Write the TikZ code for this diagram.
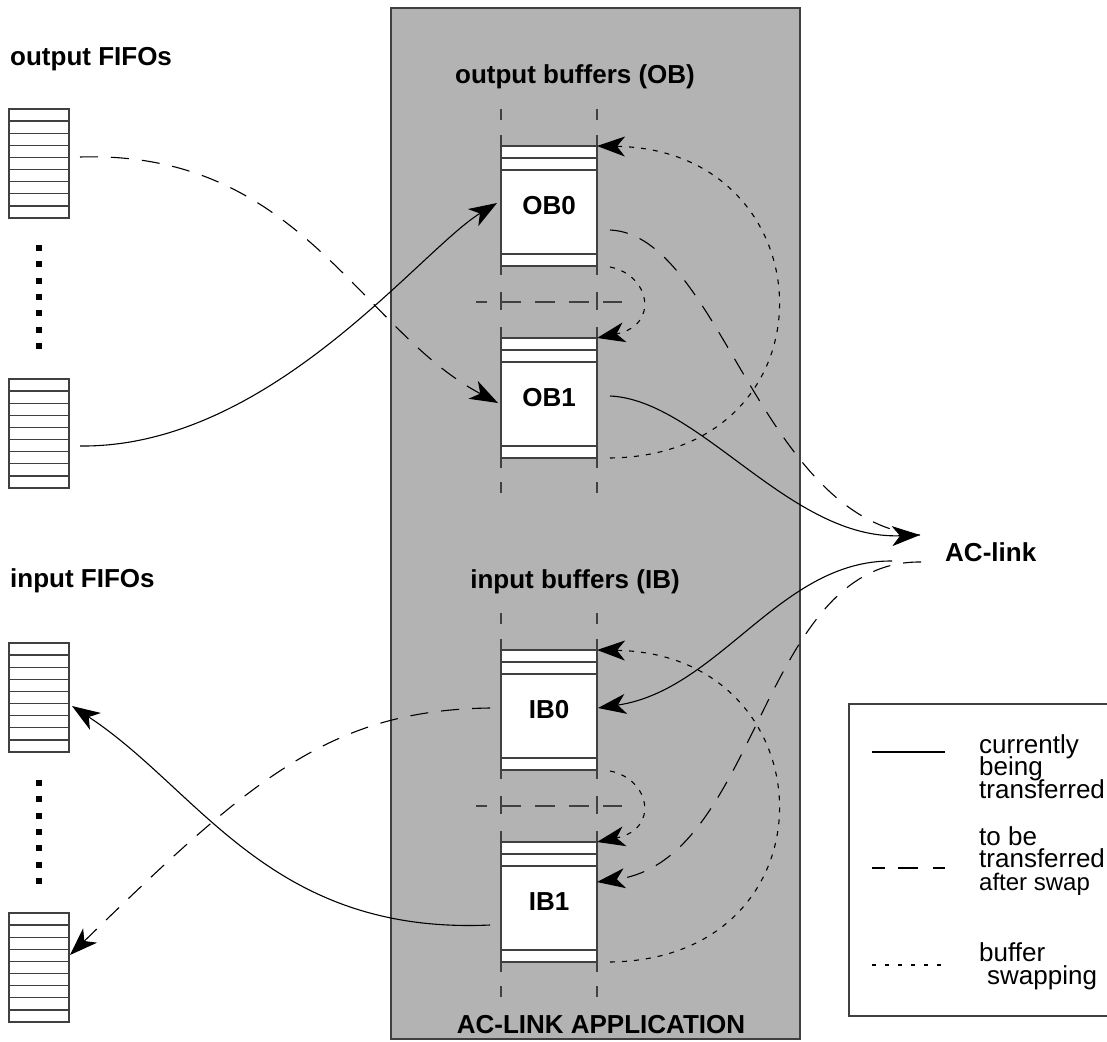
\documentclass[tikz,border=0pt]{standalone}
\usepackage{fontspec}
\setmainfont{Liberation Sans}
\usetikzlibrary{arrows.meta,calc}
\definecolor{appgray}{RGB}{179,179,179}
\definecolor{linegray}{RGB}{64,64,64}
\newcommand{\legfont}{\fontsize{26}{22.5}\selectfont\lineskiplimit=-100pt\relax}
\newcommand{\legsmall}{\fontsize{24}{22.5}\selectfont}
\begin{document}
\begin{tikzpicture}[x=1pt,y=-1pt,
  lbl/.style={font=\fontsize{26}{28}\selectfont\bfseries, inner sep=0pt},
  legtxt/.style={font={\legfont}, inner sep=0pt, anchor=base west, align=left},
  fifo/.style={draw=linegray, line width=1.3pt, fill=white, minimum width=60, minimum height=109, inner sep=0pt, outer sep=0pt},
  buf/.style={draw=linegray, line width=1.4pt, fill=white, minimum width=96, minimum height=120, inner sep=0pt, outer sep=0pt, font=\fontsize{26}{28}\selectfont\bfseries},
  guide/.style={draw=linegray, line width=1.4pt},
  conn/.style={line width=1.1pt, draw=black},
  tip/.style={-{Stealth[length=28pt,width=20pt,inset=8pt]}},
  longdash/.style={dash pattern=on 18pt off 13pt},
  swapdot/.style={dash pattern=on 5pt off 7pt},
  fifodots/.style={line width=5.5pt, dash pattern=on 6pt off 10.33pt},
]
\useasboundingbox (0,0) rectangle (1107,1041);

% application container
\node[draw=linegray, line width=1.4pt, fill=appgray, minimum width=409, minimum height=1031,
      anchor=north west, inner sep=0pt, outer sep=0pt] (app) at (391,8) {};

% labels
\node[lbl, anchor=base west] (lofifo) at (10,65) {output FIFOs};
\node[lbl, anchor=base west] (lififo) at (10,587) {input FIFOs};
\node[lbl, anchor=base] (lob) at (575,83) {output buffers (OB)};
\node[lbl, anchor=base] (lib) at (575,588) {input buffers (IB)};
\node[lbl, anchor=base] (lapp) at (601,1033) {AC-LINK APPLICATION};
\node[lbl, anchor=base west] (aclink) at (945,561) {AC-link};

% dashed buffer guides
\foreach \dy in {0,504} {
  \foreach \gx in {501,597} {
    \draw[guide] (\gx,109+\dy) -- (\gx,120+\dy);
    \draw[guide] (\gx,135+\dy) -- (\gx,275+\dy);
    \draw[guide] (\gx,292+\dy) -- (\gx,310+\dy);
    \draw[guide] (\gx,327+\dy) -- (\gx,468+\dy);
    \draw[guide] (\gx,482+\dy) -- (\gx,493+\dy);
  }
  \draw[guide, dash pattern=on 20pt off 14pt, dash phase=9pt] (476,302+\dy) -- (622,302+\dy);
}

% buffers
\node[buf] (OB0) at (549,206) {OB0};
\node[buf] (OB1) at (549,398) {OB1};
\node[buf] (IB0) at (549,710) {IB0};
\node[buf] (IB1) at (549,902) {IB1};
\foreach \b in {OB0,OB1,IB0,IB1} {
  \draw[guide] ([shift={(0,12)}]\b.north west) -- ([shift={(0,12)}]\b.north east);
  \draw[guide] ([shift={(0,24)}]\b.north west) -- ([shift={(0,24)}]\b.north east);
  \draw[guide] ([shift={(0,-12)}]\b.south west) -- ([shift={(0,-12)}]\b.south east);
}

% FIFOs
\node[fifo] (of1) at (39,163.5) {};
\node[fifo] (of2) at (39,433.5) {};
\node[fifo] (if1) at (39,697.5) {};
\node[fifo] (if2) at (39,967.5) {};
\foreach \f in {of1,of2,if1,if2} {
  \foreach \i in {1,...,8} {
    \draw[draw=linegray, line width=1.3pt] ($(\f.north west)!\i/9!(\f.south west)$) -- ($(\f.north east)!\i/9!(\f.south east)$);
  }
}
\draw[fifodots] ([shift={(0,27)}]of1.south) -- ([shift={(0,-30)}]of2.north);
\draw[fifodots] ([shift={(0,28)}]if1.south) -- ([shift={(0,-29)}]if2.north);

% connectors
\coordinate (actip) at ([shift={(-25,-26)}]aclink.base west);
\draw[conn, longdash, tip] ([shift={(11,-6.5)}]of1.east) .. controls (300,150) and (360,330) .. ([shift={(-3,5)}]OB1.west);
\draw[conn, tip] ([shift={(11,12.5)}]of2.east) .. controls (270,448) and (420,250) .. ([shift={(-4,-3)}]OB0.west);
\draw[conn, swapdot, tip] ([shift={(13,1)}]OB0.south east) .. controls (650,275) and (660,325) .. (OB1.north east);
\draw[conn, swapdot, tip] ([shift={(13,0)}]OB1.south east) .. controls (840,455) and (830,150) .. (OB0.north east);
\draw[conn, longdash] ([shift={(13,24)}]OB0.east) .. controls (720,235) and (760,520) .. (actip);
\draw[conn, tip] ([shift={(13,-2)}]OB1.east) .. controls (700,400) and (790,540) .. (actip);

\draw[conn, tip] ([shift={(-53,0)}]aclink.base west) .. controls (780,560) and (720,690) .. ([shift={(1,-2)}]IB0.east);
\draw[conn, longdash, tip] ([shift={(-24,1)}]aclink.base west) .. controls (760,560) and (760,860) .. ([shift={(0,-20)}]IB1.east);
\draw[conn, swapdot, tip] ([shift={(13,1)}]IB0.south east) .. controls (650,779) and (660,829) .. (IB1.north east);
\draw[conn, swapdot, tip] ([shift={(13,0)}]IB1.south east) .. controls (840,959) and (830,654) .. (IB0.north east);
\draw[conn, longdash, tip] ([shift={(-11,-2)}]IB0.west) .. controls (330,710) and (250,780) .. ([shift={(1,-12.5)}]if2.east);
\draw[conn, tip] ([shift={(-11,23)}]IB1.west) .. controls (270,935) and (200,790) .. ([shift={(3,8.5)}]if1.east);

% legend
\draw[draw=linegray, line width=1.4pt] (1107,704) -- (849,704) -- (849,1016) -- (1107,1016);
\draw[conn] (872,752) -- (945,752);
\draw[conn, dash pattern=on 13pt off 13pt on 20pt off 15pt on 12pt off 20pt] (872,868) -- (945,868);
\draw[conn, dash pattern=on 4pt off 9pt] (872,965) -- (945,965);
\node[legtxt] (t1) at (979,798) {currently\\being\\transferred};
\node[legtxt] (t2) at (979,890) {to be\\transferred\\{\legsmall after swap}};
\node[legtxt] (t3) at (979,984) {buffer\\\hspace*{8pt}swapping};
\end{tikzpicture}
\end{document}
